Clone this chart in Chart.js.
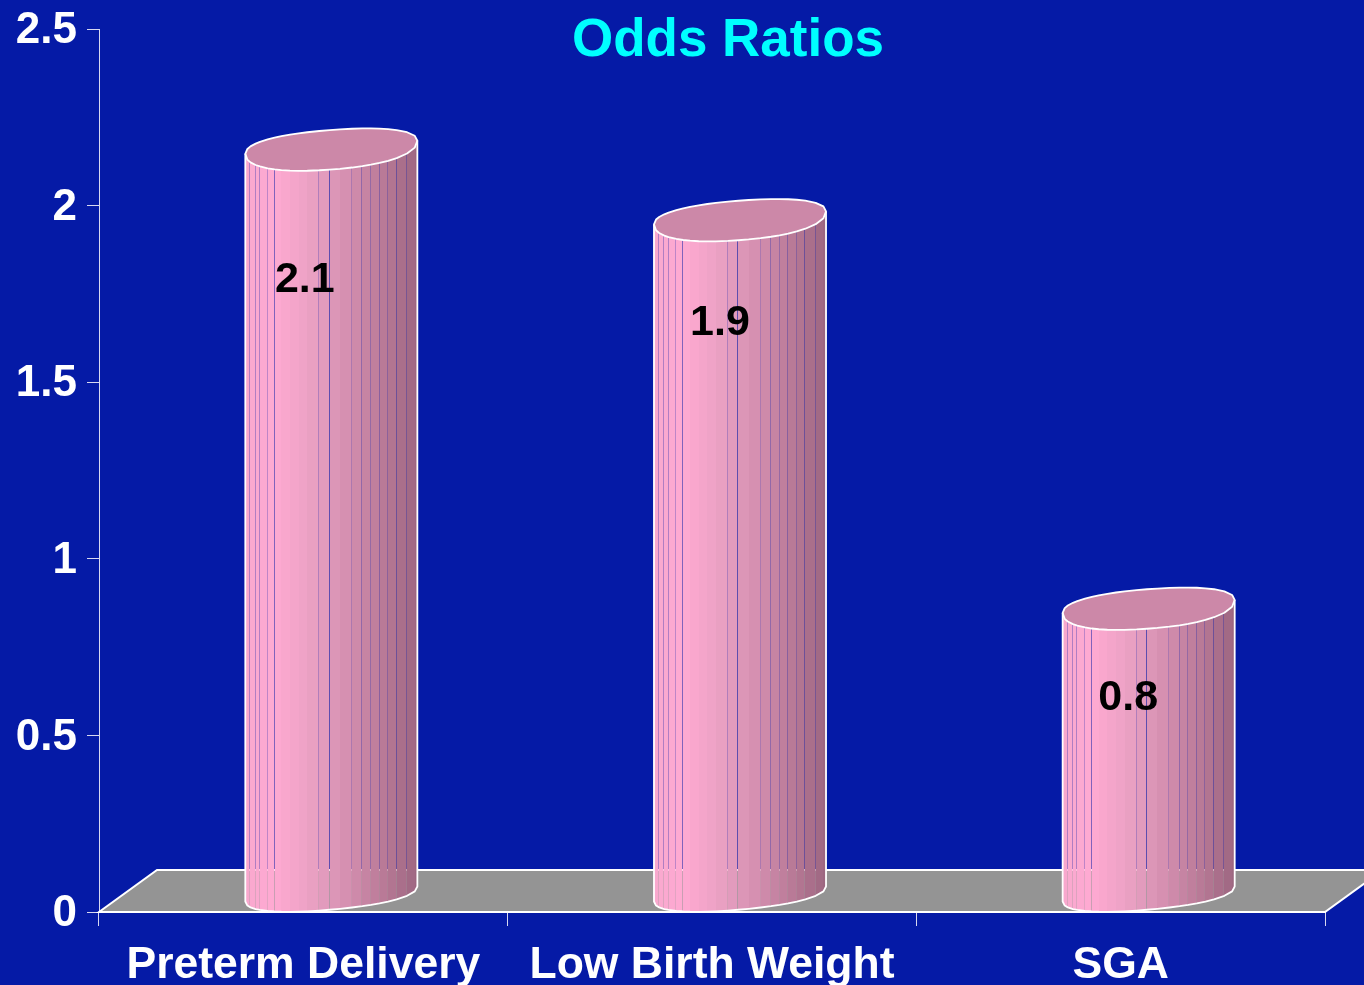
<!DOCTYPE html>
<html><head><meta charset="utf-8">
<style>html,body{margin:0;padding:0;background:#051aa6;overflow:hidden}#w{width:1364px;height:985px;position:relative}</style>
<script src="https://cdn.jsdelivr.net/npm/chart.js@4"></script>
</head><body><div id="w"><canvas id="c" width="1364" height="985"></canvas></div>
<script>
const categories = ["Preterm Delivery", "Low Birth Weight", "SGA"];
const oddsRatios = [2.1, 1.9, 0.8];
const valueLabels = ["2.1", "1.9", "0.8"];
const yTicks = [0, 0.5, 1, 1.5, 2, 2.5];
const titleText = "Odds Ratios";

const FONT = '"Liberation Sans", Arial, sans-serif';
const DEPTH_X = 58, DEPTH_Y = 42;
// facet edges across the cylinder width
const facets = [0,.012,.03,.06,.085,.13,.17,.21,.26,.31,.36,.43,.49,.55,.62,.68,.73,.78,.83,.88,.94,.985,1];
// seams between facets and how much of the background shows through each
const seams = {.03:.3,.06:.3,.085:.3,.13:.25,.17:.5,.43:.25,.49:.6,.62:.2,.68:.3,.73:.25,.78:.3,.83:.25,.88:.4,.94:.3};
const stops = [[0,[248,168,206]],[.17,[255,170,210]],[.4,[232,160,194]],[.6,[212,143,176]],[.8,[186,122,152]],[1,[156,102,128]]];
function shade(f){
  for(let i=1;i<stops.length;i++){ if(f<=stops[i][0]){
    const a=stops[i-1],b=stops[i],t=(f-a[0])/(b[0]-a[0]);
    return a[1].map((v,k)=>Math.round(v+(b[1][k]-v)*t)); } }
  return stops[stops.length-1][1];
}
// half-rim, sheared; upper=true gives the back rim
function rim(xc,yc,a,tilt,ry,upper){
  const n=2.25;
  return facets.map(f=>{
    const c=2*f-1, s=Math.pow(Math.max(0,1-Math.pow(Math.abs(c),n)),1/n);
    return [xc+a*c, yc-tilt*c+(upper?-ry*s:ry*s)];
  });
}
const cylinderPlugin = {
  id:'cylinder',
  beforeDatasetDraw(chart,args){
    const ctx=chart.ctx, meta=args.meta;
    meta.data.forEach(el=>{
      const w=el.width, a=w/2, xc=el.x+DEPTH_X/2-1, tilt=6.5;
      const topC=el.y-23, baseC=el.base-17.5;
      const topLow=rim(xc,topC,a,tilt,22.2,false);
      const topUp=rim(xc,topC,a,tilt,17.3,true);
      const baseLow=rim(xc,baseC,a,tilt+1,15.6,false);
      const outline=()=>{ctx.beginPath();
        topLow.forEach((p,i)=>i?ctx.lineTo(p[0],p[1]):ctx.moveTo(p[0],p[1]));
        baseLow.slice().reverse().forEach(p=>ctx.lineTo(p[0],p[1]));
        ctx.closePath();};
      ctx.save();
      outline(); ctx.clip();
      const yT=el.y-60, yB=el.base+2;
      for(let i=0;i<facets.length-1;i++){
        const f0=facets[i],f1=facets[i+1],x0=xc-a+f0*w,x1=xc-a+f1*w;
        const col=shade((f0+f1)/2);
        const seam=seams[f1];
        const gap=seam?1:0;
        ctx.fillStyle=`rgb(${col})`;
        ctx.fillRect(Math.round(x0),yT,Math.round(x1)-Math.round(x0)-gap,yB-yT);
        if(gap){ctx.fillStyle=`rgba(${col},${1-seam})`;ctx.fillRect(Math.round(x1)-gap,yT,gap,yB-yT);}
      }
      ctx.restore();
      // top cap
      ctx.beginPath();
      topLow.forEach((p,i)=>i?ctx.lineTo(p[0],p[1]):ctx.moveTo(p[0],p[1]));
      topUp.slice().reverse().forEach(p=>ctx.lineTo(p[0],p[1]));
      ctx.closePath();
      ctx.fillStyle='#cc88a8'; ctx.fill();
      ctx.strokeStyle='#fff'; ctx.lineWidth=1.8; ctx.lineJoin='round'; ctx.stroke();
      // sides and lower rim
      ctx.beginPath();
      ctx.moveTo(topLow[0][0],topLow[0][1]);
      baseLow.forEach(p=>ctx.lineTo(p[0],p[1]));
      ctx.lineTo(topLow[topLow.length-1][0],topLow[topLow.length-1][1]);
      ctx.stroke();
    });
    return false;
  },
  beforeDatasetsDraw(chart){
    const ctx=chart.ctx,{left,right,bottom}=chart.chartArea;
    const bk=bottom-DEPTH_Y;
    ctx.save();
    ctx.beginPath();
    ctx.moveTo(left,bottom);ctx.lineTo(left+DEPTH_X,bk);ctx.lineTo(right+DEPTH_X,bk);ctx.lineTo(right,bottom);ctx.closePath();
    ctx.fillStyle='#949494';ctx.fill();
    ctx.strokeStyle='#fff';ctx.lineWidth=2;ctx.stroke();
    ctx.restore();
  },
  afterDatasetsDraw(chart){
    const ctx=chart.ctx, els=chart.getDatasetMeta(0).data;
    const off=[[1.5,110],[8,82],[7.5,69]];
    ctx.save();
    ctx.fillStyle='#000';ctx.font='bold 43px '+FONT;ctx.textAlign='center';ctx.textBaseline='middle';
    els.forEach((el,i)=>ctx.fillText(valueLabels[i],el.x+off[i][0],el.y+off[i][1]));
    ctx.fillStyle='#00ffff';ctx.font='bold 53px '+FONT;
    ctx.fillText(titleText,728,41);
    ctx.restore();
  }
};
new Chart(document.getElementById('c'),{
  type:'bar',
  data:{labels:categories,datasets:[{label:'Odds Ratios',data:oddsRatios,backgroundColor:'#e49dc0',borderColor:'#fff',barPercentage:.421,categoryPercentage:1}]},
  options:{
    responsive:false,animation:false,
    layout:{padding:{top:29,right:39,left:0,bottom:0}},
    plugins:{legend:{display:false},tooltip:{enabled:false},title:{display:false,text:titleText}},
    scales:{
      x:{
        afterFit(s){s.height=73;s.paddingLeft=0;s.paddingRight=0;},
        grid:{drawOnChartArea:false,drawTicks:true,tickLength:14,color:'#d8d8f0',offset:true},
        border:{color:'#fff',width:1},
        ticks:{color:'#fff',font:{family:FONT,size:44.5,weight:'bold'},padding:13,maxRotation:0,autoSkip:false}
      },
      y:{
        min:0,max:2.5,
        afterFit(s){s.width=99;s.paddingTop=0;s.paddingBottom=0;},
        afterBuildTicks(s){s.ticks=yTicks.map(v=>({value:v}));},
        grid:{drawOnChartArea:false,drawTicks:true,tickLength:12,color:'#d8d8f0'},
        border:{color:'#d8d8f0',width:1},
        ticks:{color:'#fff',font:{family:FONT,size:44,weight:'bold'},padding:10,labelOffset:2,callback:v=>String(v)}
      }
    }
  },
  plugins:[cylinderPlugin]
});
</script></body></html>
